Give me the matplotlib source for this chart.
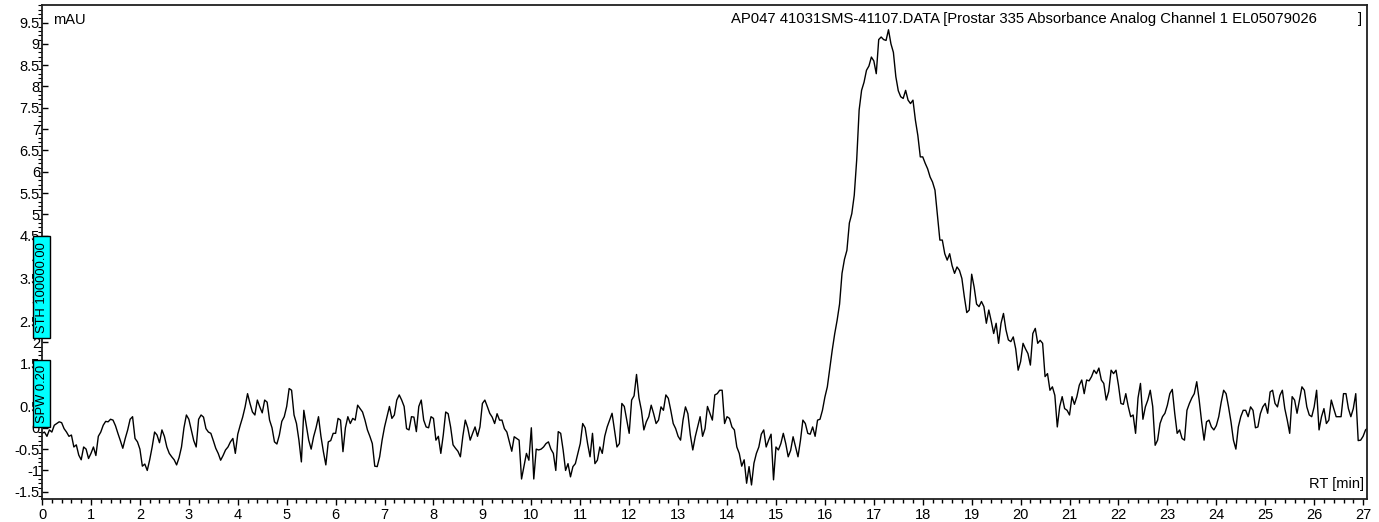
import numpy as np
import matplotlib
matplotlib.use("Agg")
import matplotlib.pyplot as plt
from matplotlib.patches import Rectangle
from matplotlib.ticker import MultipleLocator, FuncFormatter

plt.rcParams['font.family'] = ['Liberation Sans', 'DejaVu Sans']

# signal (mAU)
# values at whole 0.1 min steps: 0.0, 0.1, ... 27.1
absorbance_a = [
    -0.13, -0.2, -0.1, 0.1, 0.12, -0.1, -0.17, -0.4, -0.75, -0.5,
    -0.6, -0.65, -0.1, 0.15, 0.2, 0.05, -0.3, -0.25, 0.2, -0.25,
    -0.5, -0.85, -0.75, -0.1, -0.35, -0.2, -0.6, -0.75, -0.7, 0.0,
    0.2, -0.3, 0.2, 0.25, -0.1, -0.3, -0.6, -0.65, -0.45, -0.25,
    -0.15, 0.25, 0.8, 0.37, 0.65, 0.35, 0.6, 0.0, -0.38, 0.15,
    0.5, 0.88, 0.1, -0.8, 0.06, -0.5, 0.0, -0.2, -0.87, -0.3,
    -0.13, 0.18, 0.0, 0.1, 0.18, 0.45, 0.18, -0.2, -0.9, -0.68,
    0.02, 0.5, 0.3, 0.77, 0.5, -0.05, 0.25, 0.5, 0.18, 0.0,
    0.22, -0.2, -0.17, 0.33, -0.4, -0.55, -0.2, 0.0, -0.13, -0.2,
    0.57, 0.5, 0.25, 0.33, 0.18, -0.1, -0.55, -0.25, -1.2, -0.6,
    0.0, -0.5, -0.5, -0.37, -0.5, -1.0, -0.13, -1.0, -1.15, -0.84,
    -0.37, 0.0, -0.68, -0.84, -0.45, -0.2, 0.18, -0.05, -0.37, 0.5,
    -0.13, 0.75, 0.7, -0.05, 0.26, 0.33, 0.18, 0.41, 0.69, 0.1,
    -0.2, 0.18, 0.33, -0.52, 0.02, -0.2, 0.5, 0.18, 0.8, 0.88,
    0.26, 0.02, -0.45, -0.9, -1.3, -1.34, -0.6, -0.15, -0.45, -0.15,
    -0.45, -0.37, -0.37, -0.53, -0.45, -0.3, 0.1, -0.15, -0.2, 0.2,
    0.72, 1.4, 2.2, 2.9, 3.95, 4.8, 5.45, 7.45, 8.1, 8.48,
    8.6, 9.1, 9.1, 9.33, 8.8, 7.9, 7.72, 7.68, 7.68, 6.85,
    6.35, 6.07, 5.76, 4.98, 4.4, 3.93, 3.8, 3.77, 3.5, 2.7,
    3.6, 2.9, 2.96, 2.45, 2.5, 2.45, 2.45, 2.3, 2.02, 1.85,
    1.55, 1.85, 1.47, 2.33, 2.05, 1.2, 0.88, 0.76, 0.5, 0.45,
    0.3, 0.55, 1.0, 0.8, 1.1, 1.35, 1.4, 1.04, 0.85, 1.27,
    1.0, 0.55, 0.5, 0.3, 0.7, 0.2, 0.65, 0.5, -0.29, 0.26,
    0.53, 0.9, -0.13, -0.25, 0.41, 0.7, 1.08, 0.14, 0.14, 0.02,
    0.05, 0.6, 0.8, 0.14, -0.5, 0.26, 0.41, 0.49, 0.0, 0.33,
    0.57, 0.84, 0.57, 0.76, 0.45, -0.13, 0.65, 0.65, 0.88, 0.3,
    0.49, -0.05, 0.45, 0.18, 0.45, 0.26, 0.8, 0.45, 0.45, -0.3,
    -0.2, 0.0,
]
# values in between: 0.05, 0.15, ... 27.05
absorbance_b = [
    -0.1, -0.05, 0.06, 0.14, -0.02, -0.2, -0.45, -0.64, -0.45, -0.72,
    -0.45, -0.2, 0.06, 0.14, 0.18, -0.13, -0.48, -0.05, 0.26, -0.33,
    -0.9, -1.0, -0.45, -0.17, -0.05, -0.45, -0.68, -0.87, -0.45, 0.3,
    -0.05, -0.45, 0.3, -0.02, -0.13, -0.48, -0.76, -0.52, -0.33, -0.6,
    0.06, 0.49, 0.57, 0.3, 0.49, 0.65, 0.18, -0.33, -0.17, 0.26,
    0.92, 0.3, -0.29, 0.41, -0.29, -0.21, 0.26, -0.56, -0.33, -0.13,
    0.22, -0.56, 0.26, 0.22, 0.53, 0.37, -0.05, -0.37, -0.91, -0.29,
    0.26, 0.22, 0.65, 0.65, -0.02, 0.26, -0.09, 0.65, 0.02, 0.26,
    -0.29, -0.6, 0.37, 0.02, -0.48, -0.68, 0.18, -0.29, 0.02, 0.02,
    0.65, 0.34, 0.1, 0.18, -0.02, -0.33, -0.21, -0.29, -0.9, -0.76,
    -1.2, -0.52, -0.45, -0.33, -0.6, -0.09, -0.52, -0.84, -0.91, -0.6,
    0.1, -0.37, -0.13, -0.76, -0.6, 0.02, 0.34, -0.45, 0.57, 0.18,
    0.65, 1.25, 0.41, 0.14, 0.53, 0.1, 0.49, 0.77, 0.41, -0.02,
    -0.29, 0.49, -0.17, -0.21, 0.26, -0.02, 0.34, 0.77, 0.88, 0.1,
    0.22, -0.05, -0.6, -0.75, -0.91, -0.83, -0.45, -0.05, -0.29, -1.22,
    -0.52, -0.13, -0.68, -0.21, -0.68, 0.18, -0.13, 0.02, 0.18, 0.41,
    0.96, 1.82, 2.52, 3.62, 4.16, 5.02, 6.28, 7.91, 8.38, 8.69,
    8.3, 9.16, 9.08, 9.0, 8.23, 7.76, 7.91, 7.6, 7.21, 6.35,
    6.2, 5.88, 5.57, 4.4, 4.08, 4.08, 3.62, 3.69, 3.07, 2.76,
    3.3, 2.84, 2.84, 2.76, 2.21, 1.98, 2.68, 2.06, 2.13, 1.35,
    1.98, 1.74, 2.21, 1.98, 1.98, 1.27, 0.96, 0.02, 0.73, 0.41,
    0.73, 0.73, 1.12, 1.12, 1.2, 1.27, 1.12, 0.65, 1.35, 1.35,
    0.57, 0.8, 0.26, -0.13, 1.04, 0.49, 0.88, -0.41, 0.1, 0.34,
    0.8, 0.34, -0.05, -0.29, 0.57, 0.8, 0.65, -0.29, 0.18, -0.05,
    0.26, 0.88, 0.49, -0.29, 0.02, 0.41, 0.26, 0.41, 0.02, 0.49,
    0.34, 0.88, 0.49, 0.88, 0.18, 0.73, 0.34, 0.96, 0.49, 0.26,
    0.88, 0.26, 0.1, 0.65, 0.26, 0.26, 0.8, 0.26, 0.8, -0.29,
    -0.05,
]

header = "AP047 41031SMS-41107.DATA [Prostar 335 Absorbance Analog Channel 1 EL05079026"
y_unit = "mAU"
x_unit = "RT [min]"

# threshold markers on the left edge: label, y from, y to (mAU)
marker_labels = ["STH 100000.00", "SPW 0.20"]
marker_lo = [2.1, 0.02]
marker_hi = [4.49, 1.58]

# merge both readings into one time-ordered trace
rt_a = 0.1 * np.arange(len(absorbance_a))
rt_b = 0.05 + 0.1 * np.arange(len(absorbance_b))
rt = np.concatenate([rt_a, rt_b])
absorbance = np.concatenate([absorbance_a, absorbance_b])
order = np.argsort(rt)
rt, absorbance = rt[order], absorbance[order]

fig = plt.figure(figsize=(13.79, 5.22), dpi=100)
ax = fig.add_axes([0.0305, 0.044, 0.9608, 0.9464])

ax.plot(rt, absorbance, color='black', lw=1.0)

ax.set_xlim(0, 27.08)
ax.set_ylim(-1.67, 9.91)

ax.xaxis.set_major_locator(MultipleLocator(1))
ax.xaxis.set_minor_locator(MultipleLocator(0.2))
ax.yaxis.set_major_locator(MultipleLocator(0.5))
ax.yaxis.set_minor_locator(MultipleLocator(0.1))
ax.yaxis.set_major_formatter(FuncFormatter(lambda v, p: '%g' % v))
ax.xaxis.set_major_formatter(FuncFormatter(lambda v, p: '%g' % v))

ax.tick_params(axis='x', which='major', direction='out', length=4.3, width=1, labelsize=10.5, pad=2)
ax.tick_params(axis='x', which='minor', direction='out', length=2.8, width=1)
ax.tick_params(axis='y', which='major', direction='in', length=4.3, width=1, labelsize=10.5, pad=1.5)
ax.tick_params(axis='y', which='minor', direction='out', length=2.8, width=0.8)

for s in ax.spines.values():
    s.set_linewidth(1.3)
    s.set_color('#202020')

ax.text(0.9623, 0.972, header, transform=ax.transAxes, ha='right', va='center', fontsize=10.7)
ax.text(0.9962, 0.972, "]", transform=ax.transAxes, ha='right', va='center', fontsize=10.7)
ax.text(0.0083, 0.970, y_unit, transform=ax.transAxes, ha='left', va='center', fontsize=10.5)
ax.text(0.9977, 0.031, x_unit, transform=ax.transAxes, ha='right', va='center', fontsize=10.5)

blend = ax.get_yaxis_transform()
for lab, lo, hi in zip(marker_labels, marker_lo, marker_hi):
    ax.add_patch(Rectangle((-0.0068, lo), 0.0128, hi - lo, transform=blend,
                           facecolor='#00ffff', edgecolor='black', lw=1,
                           clip_on=False, zorder=5))
    ax.text(-0.0004, (lo + hi) / 2, lab, transform=blend, rotation=90,
            ha='center', va='center', fontsize=9.3, zorder=6, clip_on=False)

fig.savefig("out.png", dpi=100)
